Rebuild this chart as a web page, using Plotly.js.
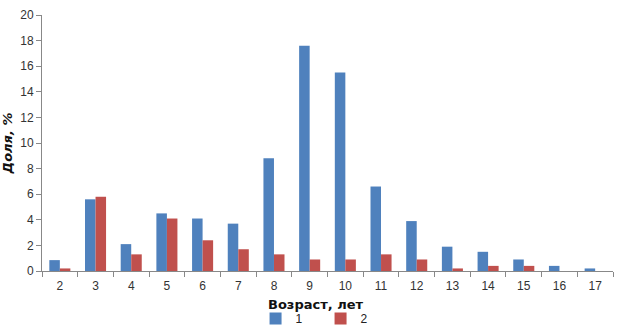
<!DOCTYPE html>
<html>
<head>
<meta charset="utf-8">
<script src="https://cdn.plot.ly/plotly-3.0.1.min.js"></script>
<style>body{margin:0;background:#fff}</style>
</head>
<body>
<div id="graph" style="width:631px;height:333px"></div>
<script>
// возраст, лет
const ages = ['2', '3', '4', '5', '6', '7', '8', '9', '10', '11', '12', '13', '14', '15', '16', '17']
const group1 = [0.85, 5.6, 2.1, 4.5, 4.1, 3.7, 8.8, 17.6, 15.5, 6.6, 3.9, 1.9, 1.5, 0.9, 0.4, 0.2]
const group2 = [0.2, 5.8, 1.3, 4.1, 2.4, 1.7, 1.3, 0.9, 0.9, 1.3, 0.9, 0.2, 0.4, 0.4, 0, 0]

const graphData = [
    {x: ages, y: group1, name: '1', type: 'bar', marker: {color: '#4F81BD'}},
    {x: ages, y: group2, name: '2', type: 'bar', marker: {color: '#C0504D'}}
]

const axisFont = {family: 'Liberation Sans, Arial, sans-serif', size: 12, color: '#333'}
const titleFont = {family: 'DejaVu Sans, sans-serif', size: 13, color: '#111', weight: 'bold'}

const layout = {
    width: 631,
    height: 333,
    margin: {l: 42, r: 18, t: 15, b: 62},
    paper_bgcolor: '#fff',
    plot_bgcolor: '#fff',
    barmode: 'group',
    bargap: 0.41,
    bargroupgap: 0,
    showlegend: true,
    legend: {
        orientation: 'h',
        x: 0.405,
        xanchor: 'left',
        xref: 'container',
        yref: 'container',
        y: 0,
        yanchor: 'bottom',
        font: {family: 'Liberation Sans, Arial, sans-serif', size: 12, color: '#222'},
        itemwidth: 30,
        entrywidth: 20,
        tracegroupgap: 0
    },
    // подпись оси X отдельно, чтобы не наезжала на метки
    annotations: [{
        text: 'Возраст, лет',
        xref: 'paper',
        yref: 'paper',
        x: 0.48,
        y: -0.13,
        xanchor: 'center',
        yanchor: 'middle',
        showarrow: false,
        font: titleFont
    }],
    xaxis: {
        type: 'category',
        tickson: 'boundaries',
        ticks: 'outside',
        ticklen: 5,
        tickcolor: '#888',
        ticklabelstandoff: 4,
        showline: true,
        linecolor: '#888',
        showgrid: false,
        tickfont: axisFont,
        automargin: false
    },
    yaxis: {
        range: [0, 20],
        dtick: 2,
        ticks: 'outside',
        ticklen: 5,
        tickcolor: '#888',
        showline: true,
        linecolor: '#888',
        showgrid: false,
        zeroline: false,
        tickfont: axisFont,
        automargin: false,
        title: {
            text: '<i>Доля, %</i>',
            font: titleFont,
            standoff: 6
        }
    }
}

Plotly.newPlot('graph', graphData, layout, {displayModeBar: false})
</script>
</body>
</html>
